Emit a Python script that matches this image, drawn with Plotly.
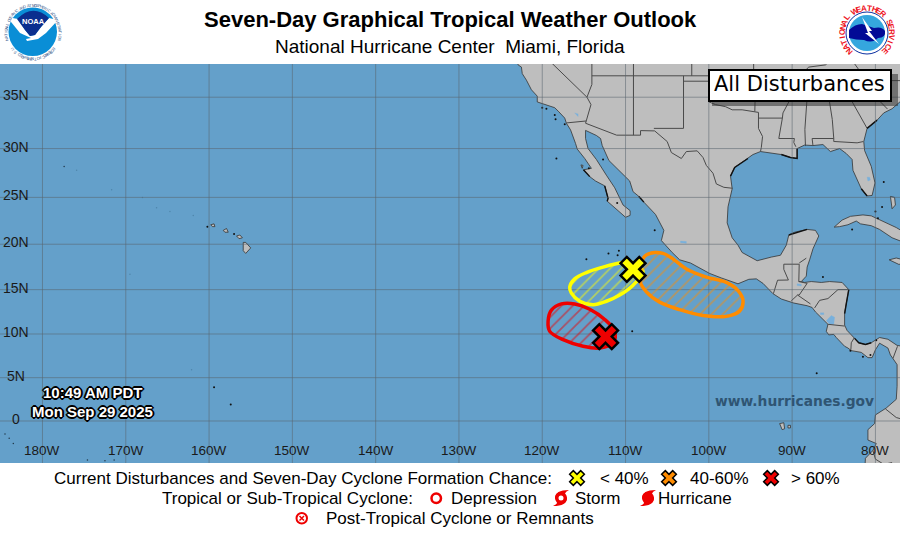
import math
import plotly.graph_objects as go

# ---------------------------------------------------------------------------
# map data (lon, lat)

main_lon = [-123.6, -123.0, -122.9, -122.5, -122.4, -121.9, -121.3, -120.6, -120.6, -119.3, -118.5, -118.0, -117.3,
            -117.1, -116.6, -116.0, -115.8, -114.9, -114.1, -115.05, -114.3, -113.6, -112.5, -112.1, -112.2, -110.9,
            -110.0, -109.45, -109.45, -110.3, -110.7, -111.3, -112.3, -113.5, -114.5, -114.8, -114.8, -113.5, -113.0,
            -112.8, -112.0, -110.9, -109.5, -109.1, -108.4, -107.8, -106.4, -105.4, -105.7, -104.4, -103.5, -102.2,
            -101.5, -99.9, -98.5, -96.5, -95.2, -94.3, -93.5, -92.3, -91.3, -89.8, -88.2, -87.6, -87.2, -86.4, -85.7,
            -85.9, -85.6, -85.0, -84.7, -83.7, -83.3, -82.9, -81.7, -80.9, -80.4, -80.0, -79.5, -78.5, -78.2, -77.9,
            -77.4, -77.4, -77.5, -78.7, -80.0, -80.1, -80.9, -80.9, -79.9, -80.3, -81.2, -81.3, -76.0, -76.0, -76.8,
            -77.4, -78.5, -79.5, -80.5, -81.2, -82.0, -82.5, -83.4, -83.7, -83.7, -83.5, -83.2, -84.0, -85.5, -86.5,
            -87.7, -88.5, -88.9, -88.3, -88.2, -87.9, -87.5, -86.8, -87.2, -88.2, -89.7, -90.4, -90.7, -91.4, -92.5,
            -94.2, -95.2, -96.0, -96.5, -97.2, -97.8, -97.7, -97.2, -97.4, -96.9, -95.3, -94.7, -93.8, -92.3, -91.3,
            -90.2, -89.4, -89.4, -88.5, -87.5, -86.3, -85.4, -84.3, -83.5, -82.8, -82.7, -82.0, -81.7, -81.0, -80.4,
            -80.05, -80.5, -81.3, -81.4, -81.0, -79.8, -79.0, -78.0, -77.0, -76.0, -76.0, -123.6]
main_lat = [39.0, 38.3, 38.0, 37.8, 37.2, 36.6, 35.7, 35.1, 34.55, 34.2, 34.0, 33.6, 33.0,
            32.5, 31.85, 30.5, 29.95, 29.0, 28.0, 27.85, 27.15, 26.7, 26.2, 24.9, 24.6, 23.6,
            22.9, 23.1, 23.6, 24.2, 24.9, 26.0, 27.3, 28.9, 30.0, 31.0, 31.8, 31.3, 31.0,
            30.3, 28.8, 27.9, 26.7, 25.6, 25.1, 24.5, 23.2, 21.5, 20.4, 19.1, 18.3, 17.95,
            17.6, 16.8, 16.3, 15.65, 16.15, 16.2, 15.7, 14.55, 13.95, 13.5, 13.2, 13.0, 12.5, 11.8, 11.1,
            10.3, 9.9, 9.95, 9.6, 8.6, 8.4, 8.1, 7.9, 7.3, 7.3, 8.2, 8.95, 8.4, 7.6, 7.2,
            6.5, 4.0, 2.5, 1.5, 0.7, -0.3, -1.0, -2.2, -2.6, -3.4, -4.3, -6.0, -6.0, 9.0, 8.6,
            8.7, 9.4, 9.6, 9.0, 8.8, 9.0, 9.5, 10.4, 11.0, 12.3, 13.5, 15.0, 15.8, 15.9, 15.8,
            15.9, 15.8, 15.9, 16.5, 17.5, 18.3, 19.5, 20.9, 21.5, 21.6, 21.3, 21.0, 19.9, 18.8, 18.6,
            18.2, 18.7, 19.1, 19.9, 20.7, 22.3, 24.0, 25.9, 27.2, 28.1, 29.0, 29.4, 29.7, 29.5, 29.4,
            29.1, 29.0, 30.0, 30.35, 30.3, 30.4, 29.7, 30.0, 29.5, 28.9, 27.8, 26.5, 25.9, 25.15, 25.2,
            26.5, 28.2, 29.8, 30.7, 32.0, 32.8, 33.5, 33.9, 34.6, 35.0, 39.0, 39.0]

cuba_lon = [-84.95, -84.0, -83.0, -81.5, -80.5, -79.0, -77.5, -76.0, -76.0, -78.0, -78.5, -79.5, -80.5, -81.8, -82.3, -83.3, -84.3, -84.95]
cuba_lat = [21.85, 22.6, 23.0, 23.15, 23.05, 22.45, 21.8, 21.0, 20.0, 20.7, 21.0, 21.6, 22.0, 22.2, 22.5, 22.1, 21.9, 21.85]
jamaica_lon = [-78.35, -77.5, -76.2, -76.3, -77.2, -78.3, -78.35]
jamaica_lat = [18.3, 18.5, 18.2, 17.9, 17.8, 18.2, 18.3]
andros_lon = [-78.2, -77.7, -77.6, -78.0, -78.2]
andros_lat = [25.1, 25.0, 24.2, 23.8, 25.1]
bigisland_lon = [-155.9, -155.6, -155.0, -155.6, -155.9, -155.9]
bigisland_lat = [20.2, 20.2, 19.6, 19.0, 19.3, 20.2]
maui_lon = [-156.7, -156.3, -156.0, -156.4, -156.7]
maui_lat = [20.9, 21.0, 20.7, 20.6, 20.9]
oahu_lon = [-158.3, -157.9, -157.7, -158.1, -158.3]
oahu_lat = [21.5, 21.7, 21.3, 21.3, 21.5]
kauai_lon = [-159.8, -159.4, -159.3, -159.6, -159.8]
kauai_lat = [22.1, 22.2, 21.9, 21.9, 22.1]
galap_lon = [-91.5, -91.0, -90.9, -91.2, -91.5]
galap_lat = [-0.3, -0.2, -0.9, -1.0, -0.3]
santacruz_lon = [-90.5, -90.2, -90.2, -90.5, -90.5]
santacruz_lat = [-0.5, -0.5, -0.8, -0.8, -0.5]
cedros_lon = [-115.35, -115.1, -115.2, -115.35]
cedros_lat = [28.35, 28.3, 28.0, 28.35]
land_islands = [(cuba_lon, cuba_lat), (jamaica_lon, jamaica_lat), (andros_lon, andros_lat),
                (bigisland_lon, bigisland_lat), (maui_lon, maui_lat), (oahu_lon, oahu_lat),
                (kauai_lon, kauai_lat), (galap_lon, galap_lat), (santacruz_lon, santacruz_lat),
                (cedros_lon, cedros_lat)]

# tiny islands that only show up as black specks
speck_lon = [-157.0, -160.2, -118.3, -110.95, -110.8, -114.7, -112.05, -109.2, -106.5, -87.05, -119.5,
             -120.0, -118.5, -118.4, -117.3, -112.7, -111.0, -114.4, -86.3, -79.9, -83.0, -80.6, -81.5, -82.8,
             -157.4, -159.4, -79.7, -79.0, -79.2, -80.0]
speck_lat = [21.1, 21.9, 29.0, 18.8, 19.3, 18.35, 19.0, 10.3, 21.5, 5.5, 33.9,
             34.0, 33.3, 32.9, 32.4, 28.9, 24.4, 28.0, 16.4, 9.3, 8.1, 7.6, 7.4, 21.6,
             1.9, 3.9, 22.8, 26.6, 24.0, 23.5]
# smaller dark dots
dot_lon = [-177.4, -174.6, -172.5, -171.4, -184.5, -184.0, -183.5]
dot_lat = [28.2, -4.5, -4.6, -4.5, -1.5, -2.0, -2.6]
# these are almost lost in the sea colour
faint_lon = [-175.9, -166.3, -171.7, -161.9, -164.7, -168.0, -169.5, -162.1]
faint_lat = [27.8, 23.9, 25.8, 23.1, 23.5, 25.0, 16.7, 5.9]

# stretches of coast that draw nearly solid black
dark_coast = [
    ([-91.3, -90.2, -89.4, -89.4], [29.4, 29.1, 29.0, 30.0]),
    ([-97.4, -96.9, -95.3], [27.2, 28.1, 29.0]),
    ([-81.7, -81.0], [25.9, 25.15]),
    ([-83.7, -83.5, -83.2], [12.3, 13.5, 15.0]),
    ([-82.5, -82.0, -81.2, -80.5], [9.5, 9.0, 8.8, 9.0]),
    ([-112.5, -112.1, -112.2], [26.2, 24.9, 24.6]),
    ([-115.05, -114.3], [27.85, 27.15]),
    ([-81.0, -79.8], [32.0, 32.8]),
    ([-90.4, -88.2], [21.0, 21.6]),
    ([-108.4, -107.8], [25.1, 24.5]),
]

# borders, every sublist one polyline
borders = [
    ([-117.1, -114.72, -114.8, -111.07, -108.2, -108.2, -106.5, -105.0, -104.5, -103.3, -102.7, -101.4, -100.7, -100.3, -99.5, -99.1, -98.2, -97.15],
     [32.53, 32.72, 32.5, 31.33, 31.33, 31.78, 31.75, 30.7, 29.6, 29.0, 29.7, 29.77, 29.1, 28.3, 27.5, 26.4, 26.05, 25.95]),
    ([-120.0, -114.63, -114.15, -114.5, -114.72], [39.0, 35.0, 34.3, 33.4, 32.72]),
    ([-114.63, -114.04, -114.04], [35.0, 36.2, 39.0]),
    ([-114.04, -94.62], [37.0, 37.0]),
    ([-109.05, -109.05], [39.0, 31.33]),
    ([-103.04, -103.04, -106.6], [37.0, 32.0, 32.0]),
    ([-102.05, -102.05], [37.0, 39.0]),
    ([-103.0, -100.0, -100.0, -99.2, -98.0, -97.2, -96.0, -94.48, -94.04, -94.04, -93.55, -93.7, -93.8],
     [36.5, 36.5, 34.56, 34.3, 34.1, 33.8, 33.8, 33.64, 33.55, 31.99, 31.2, 30.1, 29.7]),
    ([-94.48, -94.43, -94.62, -94.62], [33.64, 35.4, 36.5, 39.0]),
    ([-94.04, -91.17], [33.0, 33.0]),
    ([-94.62, -90.15, -90.37, -89.7], [36.5, 36.5, 36.0, 36.0]),
    ([-89.5, -89.7, -90.1, -91.1, -91.17, -91.6, -89.73, -89.8, -89.55], [36.6, 36.0, 35.0, 33.5, 33.0, 31.0, 31.0, 30.6, 30.18]),
    ([-90.3, -84.32], [35.0, 35.0]),
    ([-89.5, -75.9], [36.6, 36.55]),
    ([-88.2, -88.47, -88.4], [35.0, 31.9, 30.25]),
    ([-85.6, -85.18, -85.0, -85.0, -84.86, -82.2, -81.45], [35.0, 32.87, 31.0, 30.7, 30.7, 30.57, 30.7]),
    ([-87.6, -85.0], [31.0, 31.0]),
    ([-87.6, -87.5], [31.0, 30.3]),
    ([-83.1, -81.0], [35.0, 32.0]),
    ([-83.1, -82.3, -81.0, -80.8, -79.7, -78.55], [35.0, 35.2, 35.15, 34.8, 34.8, 33.87]),
    ([-84.32, -83.1, -81.68], [35.0, 35.8, 36.6]),
    ([-89.1, -88.0, -86.0, -85.0], [37.0, 37.8, 38.0, 38.7]),
    ([-82.6, -81.97, -81.68], [38.2, 37.54, 36.6]),
    ([-92.25, -92.1, -91.75, -90.45, -91.0, -91.0, -89.15], [14.55, 15.0, 16.05, 16.07, 17.25, 17.82, 17.82]),
    ([-89.15, -89.2, -88.9], [17.82, 15.9, 15.9]),
    ([-89.15, -88.3], [17.95, 18.48]),
    ([-89.2, -88.2, -89.15, -89.35, -90.1], [15.9, 15.7, 14.4, 14.4, 13.75]),
    ([-89.35, -88.5, -87.8], [14.4, 13.9, 13.4]),
    ([-87.3, -86.7, -85.7, -85.0, -84.5, -83.2], [12.95, 13.8, 14.0, 14.6, 15.0, 15.0]),
    ([-85.7, -84.7, -83.7], [11.1, 11.0, 10.9]),
    ([-82.95, -82.9, -82.55], [8.2, 9.0, 9.55]),
    ([-77.9, -77.35], [7.2, 8.6]),
    ([-78.8, -77.5, -76.0], [1.4, 0.4, 0.0]),
    ([-80.3, -80.0, -79.0, -78.0], [-3.4, -4.4, -5.0, -4.8]),
]

lakes = [
    ([-85.9, -85.3, -84.9, -85.0, -85.5, -85.9], [11.5, 12.1, 11.9, 11.1, 11.1, 11.5]),
    ([-86.6, -86.2, -86.2, -86.6, -86.6], [12.4, 12.4, 12.2, 12.2, 12.4]),
    ([-81.0, -80.7, -80.6, -80.9, -81.0], [27.1, 27.1, 26.8, 26.7, 27.1]),
    ([-103.4, -102.7, -102.7, -103.4, -103.4], [20.35, 20.3, 20.1, 20.15, 20.35]),
    ([-89.4, -88.9, -88.9, -89.4, -89.4], [15.65, 15.6, 15.4, 15.45, 15.65]),
    ([-116.1, -115.7, -115.7, -116.1], [33.5, 33.4, 33.15, 33.5]),
]

# disturbance areas
yellow_lon = [-116.7, -116.1, -114.7, -112.7, -110.3, -109.1, -107.9, -109.1, -110.7, -112.3, -113.9, -115.5, -116.5, -116.7]
yellow_lat = [15.3, 16.2, 16.9, 17.5, 18.0, 18.0, 17.0, 15.5, 14.4, 13.7, 13.3, 13.7, 14.6, 15.3]
orange_lon = [-106.5, -107.7, -108.2, -108.3, -107.5, -105.9, -103.5, -100.7, -97.9, -96.3, -95.9, -96.5, -97.9, -100.3, -102.7, -104.3, -105.5, -106.5]
orange_lat = [19.1, 18.7, 17.6, 16.0, 14.75, 13.6, 12.75, 12.1, 12.0, 12.6, 13.8, 14.9, 15.8, 16.4, 17.3, 18.4, 19.0, 19.1]
red_lon = [-119.3, -118.9, -117.7, -116.1, -114.3, -112.5, -111.3, -111.5, -113.1, -115.1, -117.5, -119.1, -119.3]
red_lat = [11.45, 12.7, 13.4, 13.4, 12.8, 11.65, 10.3, 9.0, 8.4, 8.6, 9.35, 10.3, 11.45]

x_lon = [-109.1, -112.4]
x_lat = [17.25, 9.7]
x_colors = ["#ffff00", "#ee0000"]

# tick labels
lon_ticks = [-180, -170, -160, -150, -140, -130, -120, -110, -100, -90, -80]
lon_labels = ["180W", "170W", "160W", "150W", "140W", "130W", "120W", "110W", "100W", "90W", "80W"]
lat_ticks = [35, 30, 25, 20, 15, 10, 5, 0]
lat_labels = ["35N", "30N", "25N", "20N", "15N", "10N", "5N", "0"]

# ---------------------------------------------------------------------------

OCEAN = "#64a0ca"
LAND = "#bebebe"
GRID = "rgba(90,100,110,0.55)"
FONT = "Liberation Sans"


def merc(lat):
    return math.log(math.tan(math.pi / 4 + math.radians(lat) / 2))


fig = go.Figure()


def add_poly(lons, lats, fill, line_color="#333333", width=0.8):
    fig.add_trace(go.Scatter(x=lons, y=[merc(v) for v in lats], mode="lines", fill="toself", fillcolor=fill,
                             line=dict(color=line_color, width=width), hoverinfo="skip", showlegend=False))


def add_polylines(items, color, width):
    xs, ys = [], []
    for lons, lats in items:
        xs += lons + [None]
        ys += [merc(v) for v in lats] + [None]
    fig.add_trace(go.Scatter(x=xs, y=ys, mode="lines", line=dict(color=color, width=width),
                             hoverinfo="skip", showlegend=False))


def add_dots(lons, lats, color, size):
    fig.add_trace(go.Scatter(x=lons, y=[merc(v) for v in lats], mode="markers",
                             marker=dict(color=color, size=size, line_width=0), hoverinfo="skip", showlegend=False))


add_poly(main_lon, main_lat, LAND)
for lons, lats in land_islands:
    add_poly(lons, lats, LAND)
for lons, lats in lakes:
    add_poly(lons, lats, "#78b0dc", line_color="#78b0dc", width=0.3)

add_polylines(borders, "#4a4a4a", 1)
add_polylines(dark_coast, "#111111", 1.4)

add_dots(speck_lon, speck_lat, "#111111", 2)
add_dots(dot_lon, dot_lat, "#22384a", 1.5)
add_dots(faint_lon, faint_lat, "#4f86ab", 1.5)

# grid goes above the land in the original
grid_x, grid_y = [], []
for lon in lon_ticks:
    grid_x += [lon, lon, None]
    grid_y += [-1, 1, None]
for lat in lat_ticks:
    grid_x += [-190, -70, None]
    grid_y += [merc(lat), merc(lat), None]
fig.add_trace(go.Scatter(x=grid_x, y=grid_y, mode="lines", line=dict(color=GRID, width=1),
                         hoverinfo="skip", showlegend=False))

for lons, lats, color in [(yellow_lon, yellow_lat, "#ffff00"), (orange_lon, orange_lat, "#ff8c00"), (red_lon, red_lat, "#ee0000")]:
    fig.add_trace(go.Scatter(x=lons, y=[merc(v) for v in lats], mode="lines", fill="toself",
                             fillcolor="rgba(0,0,0,0)",
                             fillpattern=dict(shape="/", fgcolor=color, bgcolor="rgba(0,0,0,0)", size=8, solidity=0.22),
                             line=dict(color=color, width=3.5, shape="spline", smoothing=1),
                             hoverinfo="skip", showlegend=False))

fig.add_trace(go.Scatter(x=x_lon, y=[merc(v) for v in x_lat], mode="markers",
                         marker=dict(symbol="x", size=22, color=x_colors, line=dict(color="black", width=2.5)),
                         hoverinfo="skip", showlegend=False))

# page furniture sits on a second axis pair that spans the whole page in pixels
legend_x_pos = [577, 669, 771]
legend_x_row = [478, 478, 478]
legend_x_colors = ["#ffff00", "#ff8c00", "#ee0000"]
fig.add_trace(go.Scatter(x=legend_x_pos, y=legend_x_row, xaxis="x2", yaxis="y2", mode="markers",
                         marker=dict(symbol="x", size=13, color=legend_x_colors, line=dict(color="black", width=1.5)),
                         hoverinfo="skip", showlegend=False))

shapes = [dict(type="rect", xref="x domain", yref="y domain", x0=0, x1=1, y0=0, y1=1, fillcolor=OCEAN,
               line_width=0, layer="below")]


def page_shape(**kw):
    shapes.append(dict(xref="x2", yref="y2", layer="above", **kw))


# All Disturbances box
page_shape(type="rect", x0=712, x1=898, y0=74, y1=106, fillcolor="rgba(50,50,50,0.55)", line_width=0)
page_shape(type="rect", x0=709, x1=891, y0=70, y1=101, fillcolor="white", line=dict(color="black", width=2))

# NOAA logo
page_shape(type="circle", x0=8.5, x1=57, y0=7.5, y1=56, fillcolor="#0a8ed6", line_width=0)
page_shape(type="path", path="M 7,17 L 18,19 L 25,30 L 30,36 L 35,35 L 41,27 L 49,18 L 58,20 L 46,33 L 38,39 L 27,41 L 26,39 L 31,38 L 20,33 Z",
           fillcolor="white", line_width=0)
page_shape(type="path", path="M 17,19 Q 33,3 49,18 L 41,27 L 35,35 L 30,36 L 25,30 Z", fillcolor="#0b2f8f", line_width=0)

# NWS logo
page_shape(type="circle", x0=846, x1=888, y0=12, y1=54, fillcolor="white", line=dict(color="#0b2fa0", width=1))
page_shape(type="circle", x0=849, x1=885, y0=15, y1=51, fillcolor="#35a6de", line_width=0)
page_shape(type="path", path="M 849,30 Q 855,24 862,24 Q 868,26 874,28 Q 882,26 885,31 Q 886,38 878,38 Q 872,44 864,40 Q 856,40 849,38 Z",
           fillcolor="#020a96", line_width=0)
page_shape(type="path", path="M 862,17 L 872,31 L 869,31 L 879,44 L 865,33 L 868,33 Z", fillcolor="white", line_width=0)

# depression ring
page_shape(type="circle", x0=431.5, x1=441, y0=493.5, y1=503, line=dict(color="#ee0000", width=2.5))
# post-tropical
page_shape(type="circle", x0=296.5, x1=307, y0=513, y1=523.5, fillcolor="white", line=dict(color="#ee0000", width=2))
page_shape(type="path", path="M 299.5,516 L 304,520.5 M 304,516 L 299.5,520.5", line=dict(color="#ee0000", width=1.5))


def swirl(cx, cy, solid):
    arms = (f"M {cx-6},{cy} Q {cx-6},{cy-8} {cx+8},{cy-8} Q {cx+1},{cy-5} {cx+6},{cy} Z "
            f"M {cx+6},{cy} Q {cx+6},{cy+8} {cx-8},{cy+8} Q {cx-1},{cy+5} {cx-6},{cy} Z")
    page_shape(type="path", path=arms, fillcolor="#ee0000", line_width=0)
    page_shape(type="circle", x0=cx - 6, x1=cx + 6, y0=cy - 6, y1=cy + 6, fillcolor="#ee0000", line_width=0)
    if not solid:
        page_shape(type="circle", x0=cx - 2.5, x1=cx + 2.5, y0=cy - 2.5, y1=cy + 2.5, fillcolor="white", line_width=0)


swirl(561, 498, False)
swirl(648, 498, True)

# ---------------------------------------------------------------------------
# text

annotations = []


def page_text(x, y, text, size=17, color="black", anchor="center", family=FONT, **kw):
    annotations.append(dict(xref="x2", yref="y2", x=x, y=y, text=text, showarrow=False, xanchor=anchor, yanchor="middle",
                            font=dict(family=family, size=size, color=color, **kw)))


def ring_text(cx, cy, radius, text, start, end, size, color, bold=False):
    for i, ch in enumerate(text):
        angle = start + (end - start) * i / (len(text) - 1)
        rad = math.radians(angle)
        annotations.append(dict(xref="x2", yref="y2", x=cx + radius * math.sin(rad), y=cy - radius * math.cos(rad),
                                text=f"<b>{ch}</b>" if bold else ch, showarrow=False, textangle=angle,
                                font=dict(family=FONT, size=size, color=color)))


page_text(450, 19, "<b>Seven-Day Graphical Tropical Weather Outlook</b>", size=22)
page_text(450, 46, "National Hurricane Center&nbsp;&nbsp;Miami, Florida", size=19)
page_text(799.5, 84, "All Disturbances", size=21, family="DejaVu Sans")

page_text(52, 478, "Current Disturbances and Seven-Day Cyclone Formation Chance:", anchor="left")
page_text(598, 478, "&lt; 40%", anchor="left")
page_text(688, 478, "40-60%", anchor="left")
page_text(789, 478, "&gt; 60%", anchor="left")
page_text(160, 498, "Tropical or Sub-Tropical Cyclone:", anchor="left")
page_text(449, 498, "Depression", anchor="left")
page_text(573, 498, "Storm", anchor="left")
page_text(656, 498, "Hurricane", anchor="left")
page_text(324, 518, "Post-Tropical Cyclone or Remnants", anchor="left")

outline = "1px 1px 0 #000, -1px -1px 0 #000, 1px -1px 0 #000, -1px 1px 0 #000, 0 2px 0 #000, 2px 0 0 #000, -2px 0 0 #000, 0 -2px 0 #000"
page_text(92, 392, "<b>10:49 AM PDT</b>", size=15, color="white", shadow=outline)
page_text(92, 411, "<b>Mon Sep 29 2025</b>", size=15, color="white", shadow=outline)
page_text(794.5, 401, "<b>www.hurricanes.gov</b>", size=13.8, color="#2f5573", family="DejaVu Sans")

page_text(33, 21, "<b>NOAA</b>", size=7.5, color="white")
ring_text(33, 32, 27, "NATIONAL OCEANIC AND ATMOSPHERIC ADMINISTRATION", -105, 105, 4, "#3b5b8c")
ring_text(33, 32, 27, "ECREMMOC FO TNEMTRAPED .S.U"[::-1], -130, -230, 4, "#3b5b8c")
ring_text(867, 33, 25, "NATIONAL WEATHER SERVICE", -135, 135, 8, "#ee1122", bold=True)

for lon, label in zip(lon_ticks, lon_labels):
    annotations.append(dict(xref="x", yref="y2", x=lon, y=450, text=label, showarrow=False,
                            font=dict(family=FONT, size=13.5, color="#1a1a1a")))
for lat, label in zip(lat_ticks, lat_labels):
    annotations.append(dict(xref="x2", yref="y", x=16, y=merc(lat), yshift=2, text=label, showarrow=False,
                            font=dict(family=FONT, size=14, color="#1a1a1a")))

fig.update_layout(
    width=900,
    height=533,
    margin=dict(l=0, r=0, t=0, b=0),
    paper_bgcolor="white",
    plot_bgcolor="rgba(0,0,0,0)",
    showlegend=False,
    xaxis=dict(domain=[0, 1], range=[-185.1, -77.05], visible=False, fixedrange=True),
    yaxis=dict(domain=[70 / 533, 469 / 533], range=[-0.0847, 0.7198], visible=False, fixedrange=True),
    xaxis2=dict(domain=[0, 1], range=[0, 900], visible=False, anchor="y2", fixedrange=True),
    yaxis2=dict(domain=[0, 1], range=[533, 0], visible=False, anchor="x2", fixedrange=True),
    shapes=shapes,
    annotations=annotations,
)

# the page's default body margin would push the whole figure 8px in
fig.write_html("out.html", config=dict(displayModeBar=False), post_script="document.body.style.margin = '0';")
